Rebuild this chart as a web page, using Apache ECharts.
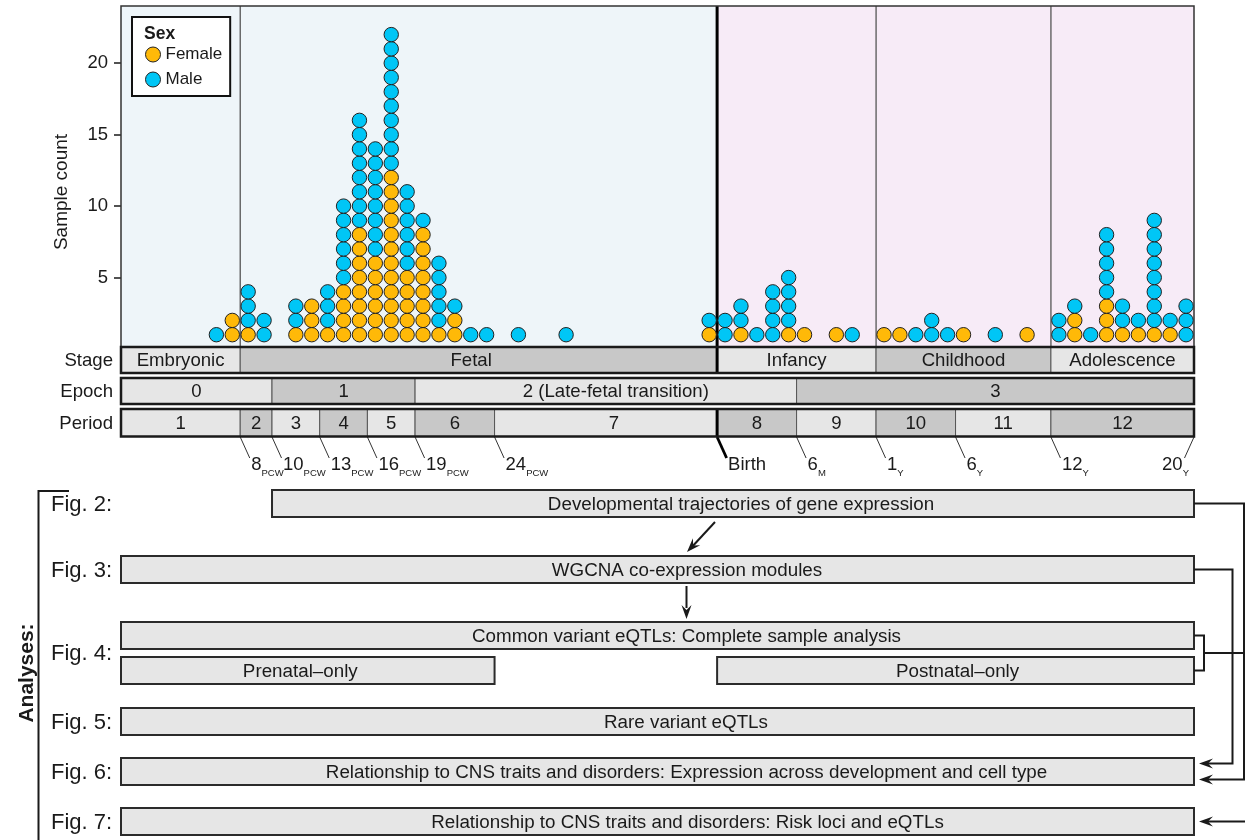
<!DOCTYPE html>
<html>
<head>
<meta charset="utf-8">
<script src="https://cdn.jsdelivr.net/npm/echarts@6/dist/echarts.min.js"></script>
<style>
  html, body { margin: 0; padding: 0; background: #ffffff; }
  #chart { width: 1245px; height: 840px; }
</style>
</head>
<body>
<div id="chart"></div>
<script>
// ---- Sample dot columns: position on the developmental time axis (one unit = one column) ----
const columnPos = [0, 1, 2, 3, 5, 6, 7, 8, 9, 10, 11, 12, 13, 14, 15, 16, 17, 19, 22,
                   31, 32, 33, 34, 35, 36, 37, 39, 40,
                   42, 43, 44, 45, 46, 47, 49, 51,
                   53, 54, 55, 56, 57, 58, 59, 60, 61];
const femaleCount = [0, 2, 1, 0, 1, 3, 1, 4, 8, 6, 12, 5, 8, 1, 2, 0, 0, 0, 0,
                     1, 0, 1, 0, 0, 1, 1, 1, 0,
                     1, 1, 0, 0, 0, 1, 0, 1,
                     0, 2, 0, 3, 1, 1, 1, 1, 0];
const maleCount = [1, 0, 3, 2, 2, 0, 3, 6, 8, 8, 10, 6, 1, 5, 1, 1, 1, 1, 1,
                   1, 2, 2, 1, 4, 4, 0, 0, 1,
                   0, 0, 1, 2, 1, 0, 1, 0,
                   2, 1, 1, 5, 2, 1, 8, 1, 3];
const sexNames = ['Female', 'Male'];
const countTicks = [5, 10, 15, 20];

// ---- Developmental stage / epoch / period bands (edges on the same time axis) ----
const stageNames = ['Embryonic', 'Fetal', 'Infancy', 'Childhood', 'Adolescence'];
const stageEdges = [-6, 1.5, 31.5, 41.5, 52.5, 61.5];
const epochNames = ['0', '1', '2 (Late-fetal transition)', '3'];
const epochEdges = [-6, 3.5, 12.5, 36.5, 61.5];
const periodNames = ['1', '2', '3', '4', '5', '6', '7', '8', '9', '10', '11', '12'];
const periodEdges = [-6, 1.5, 3.5, 6.5, 9.5, 12.5, 17.5, 31.5, 36.5, 41.5, 46.5, 52.5, 61.5];
const ageLabel = ['8', '10', '13', '16', '19', '24', 'Birth', '6', '1', '6', '12', '20'];
const ageUnit = ['PCW', 'PCW', 'PCW', 'PCW', 'PCW', 'PCW', '', 'M', 'Y', 'Y', 'Y', 'Y'];

// ---- Analyses and the span of development each one covers ----
const figLabels = ['Fig. 2:', 'Fig. 3:', 'Fig. 4:', 'Fig. 5:', 'Fig. 6:', 'Fig. 7:'];
const analysisText = [
  'Developmental trajectories of gene expression',
  'WGCNA co-expression modules',
  'Common variant eQTLs: Complete sample analysis',
  'Prenatal\u2013only',
  'Postnatal\u2013only',
  'Rare variant eQTLs',
  'Relationship to CNS traits and disorders: Expression across development and cell type',
  'Relationship to CNS traits and disorders: Risk loci and eQTLs'
];
const analysisStart = [3.5, -6, -6, -6, 31.5, -6, -6, -6];
const analysisEnd = [61.5, 61.5, 61.5, 17.5, 61.5, 61.5, 61.5, 61.5];
const analysisLane = [0, 1, 2, 3, 3, 4, 5, 6];

// ---------------------------------------------------------------------------
const FONT = '"Liberation Sans", Arial, Helvetica, sans-serif';
const INK = '#1a1a1a';
const AXIS_MIN = stageEdges[0];
const AXIS_MAX = stageEdges[stageEdges.length - 1];
const birthAt = stageEdges[2];
const SEX_COLORS = ['#FFB908', '#00C6F6'];
const LIGHT = '#E6E6E6', DARK = '#C8C8C8';
const BAND_FONT = 18.6;
const BOX_FONT = 18.8;

// horizontal nudges (px) of a few labels away from their box centre
const stageLabelShift = [0, -7.5, 0, 0, 0];
const epochLabelShift = [0, 0, 10, 0];
const periodLabelShift = [0, 0, 0, 0, 0, 0, 8, 0, 0, 0, 0, 0];
const analysisLabelShift = [8, 29.5, 29, -7.5, 2, 28.5, 29, 30];

// lane layout for the analyses boxes (pixel rows)
const laneTop = [490, 556, 622, 657, 708, 758, 808];
const BOX_H = 27;
const laneMid = laneTop.map(t => t + BOX_H / 2);

const chart = echarts.init(document.getElementById('chart'));

// stack dots: females at the bottom, males above
const femaleDots = [], maleDots = [];
columnPos.forEach((x, i) => {
  for (let j = 1; j <= femaleCount[i]; j++) femaleDots.push([x, j]);
  for (let j = 1; j <= maleCount[i]; j++) maleDots.push([x, femaleCount[i] + j]);
});

function xpx(api, v) { return api.coord([v, 0])[0]; }

function textStyle(text, x, y, size, align, extra) {
  return Object.assign({
    text: text, x: x, y: y, fill: INK, fontSize: size, fontFamily: FONT,
    align: align || 'center', verticalAlign: 'middle'
  }, extra || {});
}

// band row (Stage / Epoch / Period)
function bandRow(rowName, names, edges, shifts, top, height, thickAt) {
  return {
    type: 'custom', silent: true, z: 6,
    data: names.map((n, i) => [edges[i], edges[i + 1], i]),
    renderItem: function (params, api) {
      const x0 = xpx(api, api.value(0));
      const x1 = xpx(api, api.value(1));
      const i = api.value(2);
      const children = [
        { type: 'rect', shape: { x: x0, y: top, width: x1 - x0, height: height },
          style: { fill: i % 2 ? DARK : LIGHT, stroke: '#555', lineWidth: 1 } },
        { type: 'text', z2: 6, style: textStyle(names[i], (x0 + x1) / 2 + shifts[i], top + height / 2 + 1, BAND_FONT) }
      ];
      if (thickAt !== undefined && api.value(0) === thickAt) {
        children.push({ type: 'line', z2: 8, shape: { x1: x0, y1: top, x2: x0, y2: top + height },
          style: { stroke: '#000', lineWidth: 3 } });
      }
      if (i === 0) {
        const L = xpx(api, AXIS_MIN), R = xpx(api, AXIS_MAX);
        children.push({ type: 'rect', z2: 10, shape: { x: L, y: top, width: R - L, height: height },
          style: { fill: 'none', stroke: INK, lineWidth: 2.5 } });
        children.push({ type: 'text', style: textStyle(rowName, L - 8, top + height / 2 + 1, BAND_FONT, 'right') });
      }
      return { type: 'group', children: children };
    }
  };
}

const option = {
  animation: false,
  backgroundColor: '#ffffff',
  grid: { left: 121, right: 51, top: 6, bottom: 491 },
  xAxis: { type: 'value', min: AXIS_MIN, max: AXIS_MAX, show: false },
  yAxis: {
    type: 'value', min: 0, max: 24, interval: 5, position: 'left',
    axisLine: { show: false, onZero: false }, splitLine: { show: false },
    axisTick: { show: true, length: 7, lineStyle: { color: INK, width: 1.5 }, customValues: countTicks },
    axisLabel: { fontSize: 18.5, fontFamily: FONT, color: INK, margin: 13, customValues: countTicks,
      formatter: v => (v === 0 ? '' : String(v)) }
  },
  legend: {
    data: sexNames, orient: 'vertical', left: 132, top: 17,
    padding: [29, 8, 8, 13], itemGap: 8, itemWidth: 15, itemHeight: 15,
    borderColor: '#111', borderWidth: 2, backgroundColor: '#ffffff',
    icon: 'circle', selectedMode: false,
    textStyle: { fontSize: 17, fontFamily: FONT, color: INK },
    itemStyle: { borderColor: '#222', borderWidth: 1 }
  },
  series: [
    // prenatal / postnatal background
    {
      type: 'custom', silent: true, z: 0,
      data: [[AXIS_MIN, birthAt, 0], [birthAt, AXIS_MAX, 1]],
      renderItem: function (params, api) {
        const p0 = api.coord([api.value(0), 24]);
        const p1 = api.coord([api.value(1), 0]);
        return { type: 'rect', shape: { x: p0[0], y: p0[1], width: p1[0] - p0[0], height: p1[1] - p0[1] },
          style: { fill: api.value(2) ? '#F7EBF7' : '#EEF5F9' } };
      }
    },
    // stage separators inside the plot
    {
      type: 'custom', silent: true, z: 1,
      data: stageEdges.slice(1, -1).map(v => [v, 0]),
      renderItem: function (params, api) {
        const v = api.value(0);
        const top = api.coord([v, 24]), bot = api.coord([v, 0]);
        const isBirth = v === birthAt;
        return { type: 'line', shape: { x1: top[0], y1: top[1], x2: bot[0], y2: bot[1] },
          style: { stroke: isBirth ? '#000' : '#555', lineWidth: isBirth ? 3 : 1.3 } };
      }
    },
    {
      name: 'Female', type: 'scatter', z: 3, symbol: 'circle', symbolSize: 14.4, data: femaleDots,
      itemStyle: { color: SEX_COLORS[0], borderColor: '#222', borderWidth: 1, opacity: 1 }
    },
    {
      name: 'Male', type: 'scatter', z: 3, symbol: 'circle', symbolSize: 14.4, data: maleDots,
      itemStyle: { color: SEX_COLORS[1], borderColor: '#222', borderWidth: 1, opacity: 1 }
    },
    // plot frame
    {
      type: 'custom', silent: true, z: 5,
      data: [[AXIS_MIN, AXIS_MAX]],
      renderItem: function (params, api) {
        const p0 = api.coord([api.value(0), 24]);
        const p1 = api.coord([api.value(1), 0]);
        return { type: 'rect', shape: { x: p0[0], y: p0[1], width: p1[0] - p0[0], height: p1[1] - p0[1] },
          style: { fill: 'none', stroke: '#333', lineWidth: 1.5 } };
      }
    },
    bandRow('Stage', stageNames, stageEdges, stageLabelShift, 347, 26, birthAt),
    bandRow('Epoch', epochNames, epochEdges, epochLabelShift, 378, 26),
    bandRow('Period', periodNames, periodEdges, periodLabelShift, 409, 27.5, birthAt),
    // age markers under the period bar
    {
      type: 'custom', silent: true, z: 6,
      data: periodEdges.slice(1).map((v, i) => [v, i]),
      renderItem: function (params, api) {
        const x = xpx(api, api.value(0));
        const i = api.value(1);
        const last = i === ageLabel.length - 1;
        const birth = api.value(0) === birthAt;
        const dir = last ? -1 : 1;
        const top = 437, end = 458;
        const txt = ageUnit[i] ? '{n|' + ageLabel[i] + '}{s|' + ageUnit[i] + '}' : '{n|' + ageLabel[i] + '}';
        return {
          type: 'group',
          children: [
            { type: 'line', shape: { x1: x, y1: top, x2: x + dir * 9.5, y2: end },
              style: { stroke: birth ? '#000' : '#333', lineWidth: birth ? 2.8 : 1 } },
            { type: 'text', style: {
                text: txt, x: last ? x - 5 : x + 11, y: 465,
                align: last ? 'right' : 'left', verticalAlign: 'middle', fill: INK,
                rich: {
                  n: { fontSize: 18.5, fontFamily: FONT, lineHeight: 22, verticalAlign: 'middle', fill: INK },
                  s: { fontSize: 9.5, fontFamily: FONT, lineHeight: 26, verticalAlign: 'bottom', fill: INK }
                }
            } }
          ]
        };
      }
    },
    // analyses boxes
    {
      type: 'custom', silent: true, z: 6,
      data: analysisText.map((t, i) => [analysisStart[i], analysisEnd[i], i]),
      renderItem: function (params, api) {
        const x0 = xpx(api, api.value(0));
        const x1 = xpx(api, api.value(1));
        const i = api.value(2);
        const top = laneTop[analysisLane[i]];
        return {
          type: 'group',
          children: [
            { type: 'rect', shape: { x: x0, y: top, width: x1 - x0, height: BOX_H },
              style: { fill: LIGHT, stroke: '#2b2b2b', lineWidth: 2 } },
            { type: 'text', style: textStyle(analysisText[i], (x0 + x1) / 2 + analysisLabelShift[i],
                top + BOX_H / 2 + 1, BOX_FONT) }
          ]
        };
      }
    }
  ]
};

chart.setOption(option);

// ---- annotation graphics: legend title, axis title, analyses labels and connectors ----
const R = chart.convertToPixel({ xAxisIndex: 0 }, AXIS_MAX);
const LINE = { stroke: INK, lineWidth: 2, fill: 'none' };

function arrowHead(tx, ty, dx, dy) {
  const len = Math.hypot(dx, dy); dx /= len; dy /= len;
  const nx = -dy, ny = dx;
  return { type: 'polygon', z: 100, shape: { points: [
    [tx, ty],
    [tx - 14 * dx + 5 * nx, ty - 14 * dy + 5 * ny],
    [tx - 9 * dx, ty - 9 * dy],
    [tx - 14 * dx - 5 * nx, ty - 14 * dy - 5 * ny]
  ] }, style: { fill: INK } };
}
function polyline(points) {
  return { type: 'polyline', z: 100, shape: { points: points }, style: LINE };
}

const c6 = laneMid[5];
const c4 = (laneMid[2] + laneMid[3]) / 2;
const figY = [laneMid[0], laneMid[1], c4, laneMid[4], laneMid[5], laneMid[6]];
const tipX = R + 5;

const graphics = [
  { type: 'text', z: 100, style: textStyle('Sex', 144, 34, 17.5, 'left', { fontWeight: 'bold' }) },
  { type: 'text', z: 100, x: 62, y: 192, rotation: Math.PI / 2,
    style: textStyle('Sample count', 0, 0, 19) },
  { type: 'text', z: 100, x: 27, y: 673, rotation: Math.PI / 2,
    style: textStyle('Analyses:', 0, 0, 21, 'center', { fontWeight: 'bold' }) },
  polyline([[69, 491], [38.5, 491], [38.5, 840]])
];
figLabels.forEach((t, i) => {
  graphics.push({ type: 'text', z: 100, style: textStyle(t, 51, figY[i] + 1, 22, 'left') });
});

// Fig. 2 -> Fig. 3 -> Fig. 4
graphics.push(polyline([[715, laneTop[0] + BOX_H + 5], [690, 549]]));
graphics.push(arrowHead(687, 552, -28, 30));
graphics.push(polyline([[686.5, laneTop[1] + BOX_H + 3], [686.5, 608]]));
graphics.push(arrowHead(686.5, 619, 0, 1));

// right-hand connectors into Fig. 6 and Fig. 7
graphics.push(polyline([[R, laneMid[0]], [R + 50, laneMid[0]], [R + 50, c6 + 8], [tipX + 8, c6 + 8]]));
graphics.push(arrowHead(tipX, c6 + 8, -1, 0));
graphics.push(polyline([[R, laneMid[1]], [R + 38.5, laneMid[1]], [R + 38.5, c6 - 8], [tipX + 8, c6 - 8]]));
graphics.push(arrowHead(tipX, c6 - 8, -1, 0));
graphics.push(polyline([[R, laneMid[2]], [R + 10, laneMid[2]], [R + 10, laneMid[3]], [R, laneMid[3]]]));
graphics.push(polyline([[R + 10, c4], [R + 50, c4]]));
graphics.push(polyline([[1245, laneMid[6]], [tipX + 8, laneMid[6]]]));
graphics.push(arrowHead(tipX, laneMid[6], -1, 0));

chart.setOption({ graphic: graphics });
</script>
</body>
</html>
